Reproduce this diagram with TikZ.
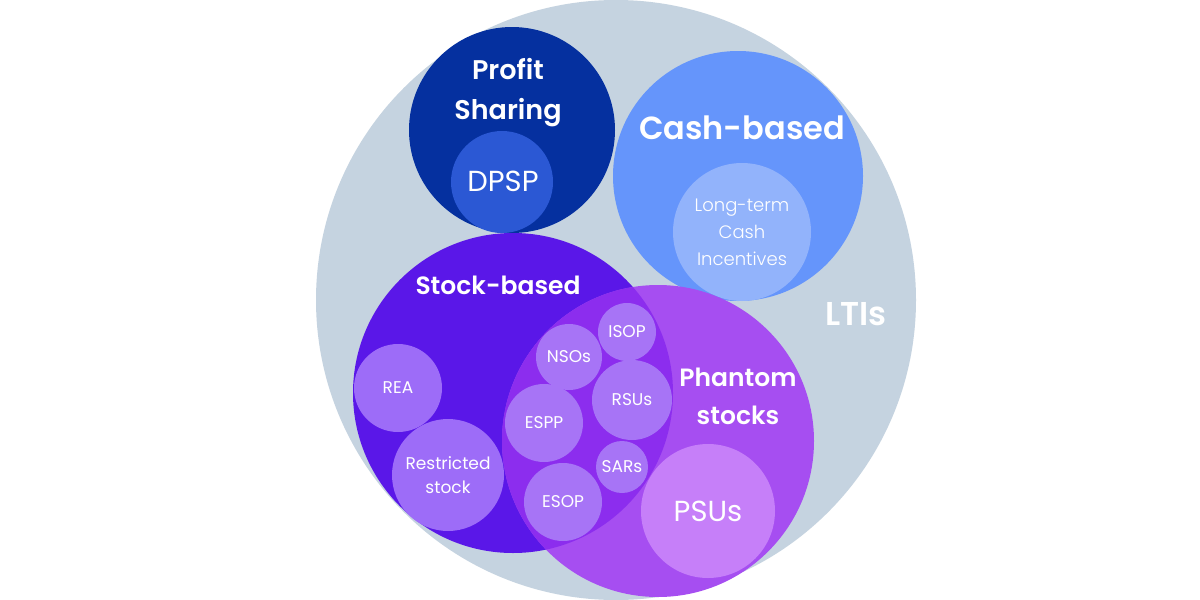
\documentclass[tikz,border=0pt]{standalone}
\usepackage{fontspec}
\setmainfont{Poppins}[BoldFont={Poppins SemiBold}]
\newfontfamily\lightf{Poppins Light}
\begin{document}
\begin{tikzpicture}[x=1pt,y=-1pt,
  disc/.style={circle,inner sep=0pt,draw=none,text=white,align=center},
  big/.style={font=\fontsize{27}{40}\selectfont\bfseries,text=white,align=center},
  small/.style={font=\fontsize{17}{24}\selectfont}]
\definecolor{ltic}{HTML}{C5D3E0}
\definecolor{profc}{HTML}{05309F}
\definecolor{dpspc}{HTML}{2B58D4}
\definecolor{cashc}{HTML}{6595FB}
\definecolor{ltcc}{HTML}{92B3FB}
\definecolor{stockc}{HTML}{5A17E8}
\definecolor{phanc}{HTML}{A64EF1}
\definecolor{overc}{HTML}{8C2DEE}
\definecolor{subc}{HTML}{9D6CF8}
\definecolor{innc}{HTML}{A774F6}
\definecolor{psuc}{HTML}{C67FF9}
\useasboundingbox (0,0) rectangle (1200,600);
\fill[white] (0,0) rectangle (1200,600);
\node[disc,fill=ltic,minimum size=600pt] (lti) at (616,300) {};
\node[disc,fill=profc,minimum size=206pt] (prof) at (512,130) {};
\node[disc,fill=dpspc,minimum size=102pt] (dpsp) at (502,182) {};
\node[disc,fill=cashc,minimum size=250pt] (cash) at (738,176) {};
\node[disc,fill=ltcc,minimum size=138pt] (ltc) at (742,232) {};
\node[disc,fill=stockc,minimum size=320pt] (stock) at (513,393) {};
\node[disc,fill=phanc,minimum size=312pt] (phan) at (658,441) {};
\begin{scope}
  \clip (513,393) circle[radius=160pt];
  \fill[overc] (658,441) circle[radius=156pt];
\end{scope}
% sub circles
\node[disc,fill=subc,minimum size=88pt,small] (rea) at (398,388) {REA};
\node[disc,fill=subc,minimum size=112pt,small] (rst) at (448,475) {Restricted\\stock};
\node[disc,fill=innc,minimum size=66pt,small] (nso) at (569,357) {NSOs};
\node[disc,fill=innc,minimum size=58pt,small] (isop) at (627,332) {ISOP};
\node[disc,fill=innc,minimum size=80pt,small] (rsu) at (632,400) {RSUs};
\node[disc,fill=innc,minimum size=78pt,small] (espp) at (544,423) {ESPP};
\node[disc,fill=innc,minimum size=52pt,small] (sar) at (622,467) {SARs};
\node[disc,fill=innc,minimum size=78pt,small] (esop) at (563,502) {ESOP};
\node[disc,fill=psuc,minimum size=134pt,font=\fontsize{29}{34}\selectfont] (psu) at (708,511) {PSUs};
% labels
\node[big] (proflab) at (508,93) {Profit\\Sharing};
\node[font=\fontsize{29}{34}\selectfont,text=white] (dpsplab) at (503,181) {DPSP};
\node[big,font=\fontsize{32}{38}\selectfont\bfseries] (cashlab) at (742,128) {Cash-based};
\node[text=white,align=center,font=\lightf\fontsize{18}{27}\selectfont] (ltclab) at (742,232) {Long-term\\Cash\\Incentives};
\node[big,font=\fontsize{25}{38}\selectfont\bfseries] (stocklab) at (498,285) {Stock-based};
\node[big,font=\fontsize{25}{38}\selectfont\bfseries] (phanlab) at (738,396) {Phantom\\stocks};
\node[big,font=\fontsize{33}{38}\selectfont\bfseries] (ltilab) at (856,314) {LTIs};
\end{tikzpicture}
\end{document}
